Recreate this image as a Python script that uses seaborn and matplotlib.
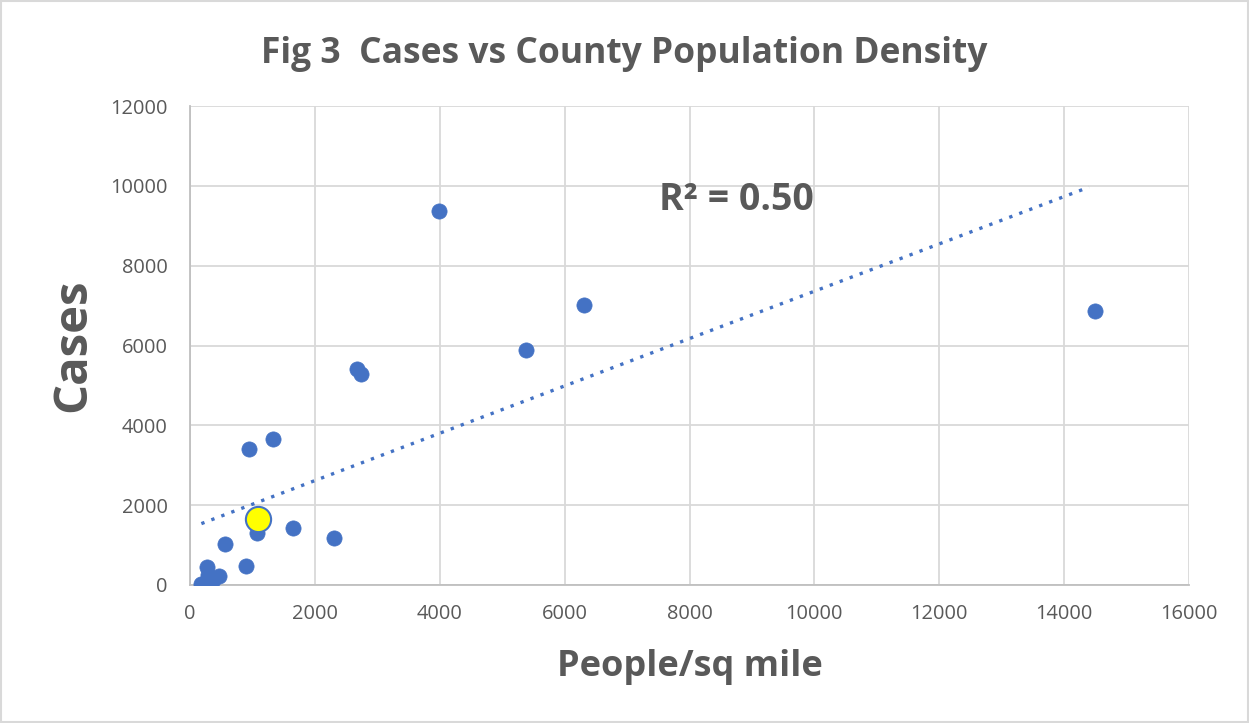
import numpy as np
import pandas as pd
import seaborn as sns
import matplotlib.pyplot as plt
from matplotlib.patches import Rectangle

# Werte (Einwohner pro Quadratmeile, Fälle)
density = [182, 267, 290, 363, 471, 556, 900, 942, 1071, 1334, 1645, 2299,
           2674, 2738, 3992, 5374, 6307, 14500]
cases = [33, 443, 250, 126, 227, 1023, 479, 3400, 1300, 3652, 1436, 1166,
         5423, 5297, 9370, 5877, 7020, 6860]
# hervorgehobener Landkreis
highlight_density = [1082]
highlight_cases = [1645]

df = pd.DataFrame({'density': density + highlight_density,
                   'cases': cases + highlight_cases})
df_hl = pd.DataFrame({'density': highlight_density, 'cases': highlight_cases})

sns.set_style('white')
plt.rcParams['font.family'] = ['Open Sans', 'DejaVu Sans']

fig = plt.figure(figsize=(12.49, 7.23), dpi=100)
ax = fig.add_axes([190 / 1249, 1 - 585 / 723, 999 / 1249, 479 / 723])

blue = '#4472C4'
grey = '#595959'

sns.scatterplot(x='density', y='cases', data=df, ax=ax, color=blue, s=120,
                edgecolor=blue, linewidth=0.5, zorder=3)
sns.scatterplot(x='density', y='cases', data=df_hl, ax=ax, color='#FFFF00', s=330,
                edgecolor=blue, linewidth=1.5, zorder=4)

# lineare Trendlinie
k, d = np.polyfit(df['density'], df['cases'], 1)
xs = np.array([df['density'].min(), df['density'].max() - 100])
ax.plot(xs, k * xs + d, linestyle=(0, (1, 2.2)), color=blue, linewidth=2.4, zorder=2)

ax.text(8750, 9650, 'R² = 0.50', fontsize=27, fontweight='bold', color=grey,
        ha='center', va='center')

ax.set_xlim(0, 16000)
ax.set_ylim(0, 12000)
ax.set_xticks(range(0, 16001, 2000))
ax.set_yticks(range(0, 12001, 2000))
ax.grid(True, color='#D9D9D9', linewidth=1.3)
ax.set_axisbelow(True)
for side in ['top', 'right']:
    ax.spines[side].set_visible(False)
for side in ['left', 'bottom']:
    ax.spines[side].set_color('#BFBFBF')
    ax.spines[side].set_linewidth(1.3)
ax.tick_params(axis='y', labelsize=14.4, colors=grey, length=0, pad=16)
ax.tick_params(axis='x', labelsize=14.4, colors=grey, length=0, pad=14)

ax.set_xlabel('People/sq mile', fontsize=26, fontweight='bold', color=grey, labelpad=18)
ax.set_ylabel('Cases', fontsize=34, fontweight='bold', color=grey, labelpad=10)

fig.text(0.5, 1 - 54 / 723, 'Fig 3  Cases vs County Population Density', fontsize=25.5,
         fontweight='bold', color=grey, ha='center', va='center')

fig.patches.append(Rectangle((0.001, 0.001), 0.998, 0.997, transform=fig.transFigure,
                             fill=False, edgecolor='#D9D9D9', linewidth=1.5))

plt.savefig('out.png', dpi=100)
